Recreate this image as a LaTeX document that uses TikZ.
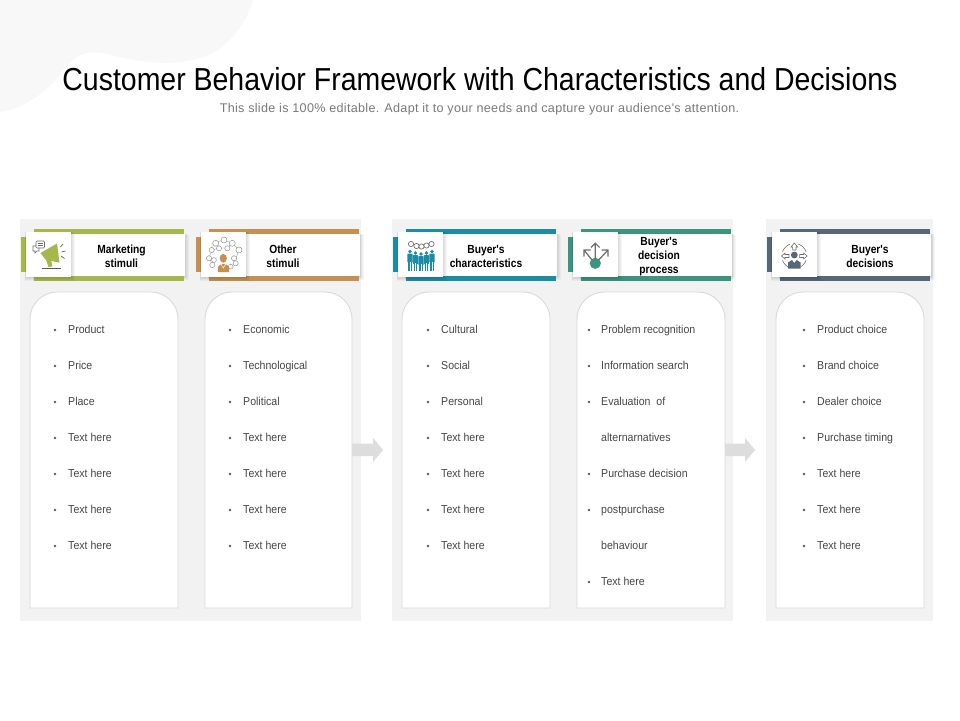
\documentclass[tikz,border=0pt]{standalone}
\usepackage{fontspec}
\setmainfont{Liberation Sans}
\newfontfamily\titlef[FakeStretch=0.895]{Liberation Sans}
\newfontfamily\bodyf[FakeStretch=0.92]{Liberation Sans}
\newfontfamily\headf[FakeStretch=0.87]{Liberation Sans}
\newfontfamily\subf[LetterSpace=2.4]{Liberation Sans}
\definecolor{panelc}{HTML}{F2F2F2}
\definecolor{blobc}{HTML}{F8F8F8}
\definecolor{cardl}{HTML}{DADADA}
\definecolor{arrowc}{HTML}{DDDDDD}
\definecolor{cgreen}{HTML}{A6B84C}
\definecolor{corange}{HTML}{C79050}
\definecolor{cblue}{HTML}{1B8CA8}
\definecolor{cteal}{HTML}{3A957F}
\definecolor{cslate}{HTML}{56677A}
\definecolor{iconl}{HTML}{6E6E6E}
\tikzset{
  x=1pt,y=-1pt,
  panel/.style={fill=panelc,draw=none},
  card/.style={fill=white,draw=cardl,line width=0.9pt},
  item/.style={anchor=base west,inner sep=0,font=\bodyf\fontsize{11.5}{13}\selectfont,text=black!72},
  dotb/.style={fill=black!65,draw=none},
  headtxt/.style={align=center,inner sep=0,font=\headf\bfseries\fontsize{11.8}{14}\selectfont,text=black},
  bigarrow/.style={fill=arrowc,draw=none},
  thinic/.style={draw=iconl,line width=0.6pt,fill=none},
  netc/.style={draw=black!42,line width=0.5pt,fill=white},
  iconbox/.style={fill=white,minimum width=45pt,minimum height=45pt,inner sep=0,anchor=north west},
}
\newcommand{\softshadow}[4]{%
  \foreach \k in {4,3,2,1}{\fill[black,opacity=0.035] ({#1-\k*0.3},{#2+0.5*\k*0.3}) rectangle ({#3+\k*0.9},{#4+\k*0.9});}}
\newcommand{\hdr}[6]{%
  \fill[#3] (#2,237) rectangle ({#2+20},272);
  \softshadow{#2+13}{234}{#2+164}{276}
  \fill[#3] ({#2+13},229) rectangle ({#2+163},281);
  \fill[white] ({#2+13},234) rectangle ({#2+164},276);
  \softshadow{#2+5}{232}{#2+50}{277}
  \node[iconbox] (icon#1) at ({#2+5},232) {};
  \node[headtxt] (head#1) at ({#2+#4},#5) {#6};
}
\newcommand{\cardbox}[2]{%
  \draw[card] (#1,608) -- (#1,319) arc[start angle=180,end angle=90,radius=27pt]
    -- ({#2-27},292) arc[start angle=90,end angle=0,radius=27pt] -- (#2,608) -- cycle;}
\newcommand{\litem}[4]{%
  \fill[dotb] (#1,#3) circle (1.4pt);
  \node[item] at (#2,{#3+3.9}) {#4};}
\newcommand{\ltext}[3]{\node[item] at (#1,{#2+3.9}) {#3};}
\newcommand{\arcseg}[3]{%
  \draw[thinic,domain=#1:#2,samples=8] plot ({794.3+#3*cos(\x)},{256+#3*sin(\x)});}
\begin{document}
\begin{tikzpicture}
\useasboundingbox (0,0) rectangle (960,720);
\fill[white] (0,0) rectangle (960,720);
\fill[blobc] (0,0) -- (253,0) .. controls (245,25) and (228,50) .. (200,58)
  .. controls (170,67) and (140,62) .. (110,55)
  .. controls (92,50) and (78,50) .. (62,72)
  .. controls (47,92) and (25,108) .. (0,112) -- cycle;
\node[inner sep=0,font=\titlef\fontsize{31.8}{36}\selectfont,text=black] (title) at (480,79.5) {Customer Behavior Framework with Characteristics and Decisions};
\node[inner sep=0,font=\subf\fontsize{12.6}{15}\selectfont,text=black!52] (subtitle) at (479.5,109.5) {This slide is 100\% editable. Adapt it to your needs and capture your audience's attention.};
\fill[panel] (20,219) rectangle (361,621);
\fill[panel] (392,219) rectangle (733,621);
\fill[panel] (766,219) rectangle (933,621);
\fill[bigarrow] (351,443.5) -- (373,443.5) -- (373,438) -- (383,450) -- (373,462) -- (373,456) -- (351,456) -- cycle;
\fill[bigarrow] (724,443.5) -- (745,443.5) -- (745,438) -- (755,450) -- (745,462) -- (745,456) -- (724,456) -- cycle;
\cardbox{30}{178}
\cardbox{205}{352}
\cardbox{402}{550}
\cardbox{577}{725}
\cardbox{776}{924}
\hdr{a}{21}{cgreen}{100.5}{256}{Marketing\\stimuli}
\hdr{b}{196}{corange}{87}{256}{Other\\stimuli}
\hdr{c}{393}{cblue}{93}{256}{Buyer's\\characteristics}
\hdr{d}{568}{cteal}{91}{257}{Buyer's\\decision\\process}
\hdr{e}{767}{cslate}{103}{256}{Buyer's\\decisions}
\litem{55}{68}{330}{Product}
\litem{55}{68}{366}{Price}
\litem{55}{68}{402}{Place}
\litem{55}{68}{438}{Text here}
\litem{55}{68}{474}{Text here}
\litem{55}{68}{510}{Text here}
\litem{55}{68}{546}{Text here}
\litem{230}{243}{330}{Economic}
\litem{230}{243}{366}{Technological}
\litem{230}{243}{402}{Political}
\litem{230}{243}{438}{Text here}
\litem{230}{243}{474}{Text here}
\litem{230}{243}{510}{Text here}
\litem{230}{243}{546}{Text here}
\litem{428}{441}{330}{Cultural}
\litem{428}{441}{366}{Social}
\litem{428}{441}{402}{Personal}
\litem{428}{441}{438}{Text here}
\litem{428}{441}{474}{Text here}
\litem{428}{441}{510}{Text here}
\litem{428}{441}{546}{Text here}
\litem{589}{601}{330}{Problem recognition}
\litem{589}{601}{366}{Information search}
\litem{589}{601}{402}{Evaluation\ \ of}
\ltext{601}{438}{alternarnatives}
\litem{589}{601}{474}{Purchase decision}
\litem{589}{601}{510}{postpurchase}
\ltext{601}{546}{behaviour}
\litem{589}{601}{582}{Text here}
\litem{804}{817}{330}{Product choice}
\litem{804}{817}{366}{Brand choice}
\litem{804}{817}{402}{Dealer choice}
\litem{804}{817}{438}{Purchase timing}
\litem{804}{817}{474}{Text here}
\litem{804}{817}{510}{Text here}
\litem{804}{817}{546}{Text here}
% megaphone icon
\fill[cgreen] (40.5,253) -- (57,243.5) -- (59.5,262.5) -- (46,260) -- cycle;
\fill[cgreen] (46,259.5) -- (51,260) -- (52.5,266.5) -- (48.5,267) -- cycle;
\draw[thinic,rounded corners=1pt,fill=white] (36,241) rectangle (44.5,248);
\draw[thinic] (37.5,243.2) -- (43,243.2) (37.5,245.4) -- (43,245.4);
\draw[thinic] (36,246) -- (33,246) -- (33,251) -- (35,251) -- (35,253) -- (37,251) -- (39,251) -- (39,248);
\draw[iconl,line width=0.8pt] (60.5,247) -- (63,244) (61.5,252) -- (65.5,251) (61,256) -- (64.5,258.5);
\draw[black!65,line width=0.9pt] (42,268.5) -- (61,268.5);
% network icon
\draw[draw=black!35,line width=0.4pt] (212,243) -- (224,240) -- (232,243) -- (239,250) -- (236,258) -- (236,264)
  (212,243) -- (212,250) -- (209,258) -- (212,264) -- (213,266) (219,248) -- (227,248) -- (232,243) (219,248) -- (212,250);
\foreach \px/\py/\cr in {215.7/243.3/3,224/240/3,232.3/243.3/3,239/250/3,211.7/250/2.6,209/258.3/2.6,214/260/2.4,212.3/265/2.6,234/258.3/2.6,235.7/263.3/2.6,230.7/266.7/2.4,219/248.3/2.6,227.3/248.3/2.6}{
  \draw[netc] (\px,\py) circle (\cr pt);}
\fill[corange] (223.3,258.3) ellipse (3.6pt and 4.4pt);
\fill[corange] (218,272) -- (218,267) .. controls (219,263) and (228,263) .. (229,267) -- (229,272) -- cycle;
\draw[white,line width=0.5pt] (220.3,263) -- (223.3,268) -- (226.3,263);
% people icon
\foreach \px/\py in {410/251.5,415.5/253,421/254,426.5/253,432/251.5}{
  \fill[cblue] (\px,\py) circle (1.9pt);
  \fill[cblue,rounded corners=0.6pt] ({\px-2.6},{\py+2.2}) rectangle ({\px+2.6},{\py+11});
  \fill[cblue] ({\px-1.9},{\py+10}) rectangle ({\px+1.9},271);
  \draw[white,line width=0.35pt] (\px,{\py+10}) -- (\px,271);}
\foreach \px/\py in {411/244,416.5/246,421.5/246.5,426.5/245.5,431.5/244}{
  \draw[draw=black!55,fill=white,line width=0.7pt] (\px,\py) circle (2.6pt);}
% decision icon
\fill[cteal] (595.3,263.3) circle (5.6pt);
\draw[iconl,line width=1.2pt] (595.3,259) -- (595.3,243.5) (591,247.5) -- (595.3,243.2) -- (599.6,247.5);
\draw[iconl,line width=1.2pt] (592,260) -- (584,250) (584,256.5) -- (584,250) -- (590.5,250);
\draw[iconl,line width=1.2pt] (598.6,260) -- (608,250) (601.5,250) -- (608,250) -- (608,256.5);
% decisions icon
\fill[cslate] (794.3,255) circle (3.4pt);
\fill[cslate] (788,268.5) -- (788,262.5) -- (792,260) -- (794.3,263) -- (796.6,260) -- (800.6,262.5) -- (800.6,268.5) -- cycle;
\draw[thinic] (794.3,243) -- (791,247) -- (792.6,247) -- (792.6,250) -- (796,250) -- (796,247) -- (797.6,247) -- cycle;
\draw[thinic] (781.5,256) -- (785,253) -- (785,254.5) -- (789,254.5) -- (789,257.5) -- (785,257.5) -- (785,259) -- cycle;
\draw[thinic] (807.1,256) -- (803.6,253) -- (803.6,254.5) -- (799.6,254.5) -- (799.6,257.5) -- (803.6,257.5) -- (803.6,259) -- cycle;
\arcseg{-160}{-110}{12.5}
\arcseg{-70}{-20}{12.5}
\arcseg{20}{60}{12.5}
\arcseg{120}{160}{12.5}
\end{tikzpicture}
\end{document}
